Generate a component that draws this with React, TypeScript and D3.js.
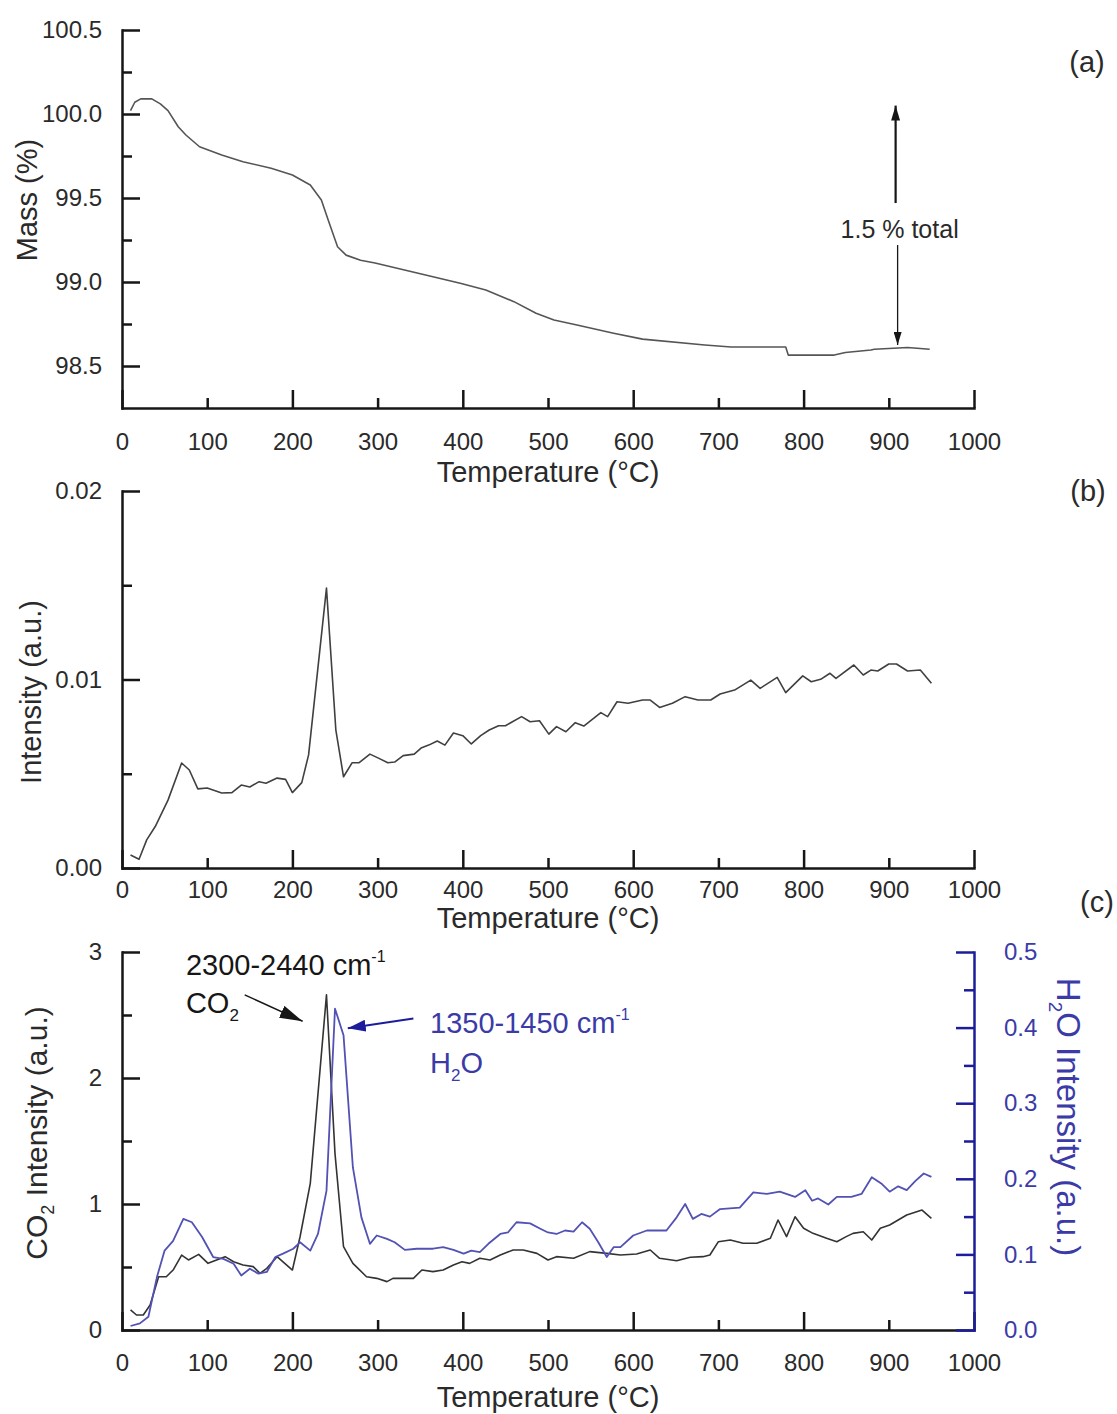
import React, { useEffect, useRef } from 'react';
import * as d3 from 'd3';

// (a) mass loss curve
const tgaTemp = [10, 15, 22, 35, 45, 54, 66, 75, 91, 117, 142, 175, 200, 221, 234, 242, 253, 263, 280, 297, 339, 397, 427, 460, 486, 507, 534, 577, 611, 684, 715, 779, 782, 836, 849, 879, 883, 922, 948];
const tgaMass = [100.02, 100.07, 100.09, 100.09, 100.06, 100.02, 99.924, 99.875, 99.805, 99.756, 99.716, 99.677, 99.637, 99.577, 99.488, 99.369, 99.21, 99.16, 99.13, 99.113, 99.062, 98.992, 98.952, 98.883, 98.814, 98.774, 98.744, 98.695, 98.66, 98.625, 98.613, 98.613, 98.565, 98.565, 98.58, 98.595, 98.6, 98.61, 98.6];

// (b) intensity
const msTemp = [10, 20, 29, 39, 54, 70, 79, 89, 100, 117, 129, 140, 150, 161, 169, 182, 192, 200, 211, 219, 240, 251, 260, 270, 278, 291, 301, 312, 320, 330, 343, 351, 360, 370, 379, 389, 400, 410, 421, 431, 442, 450, 469, 479, 490, 501, 510, 521, 532, 542, 562, 570, 581, 594, 611, 620, 631, 646, 661, 676, 691, 702, 719, 738, 749, 769, 779, 799, 809, 820, 831, 838, 859, 870, 879, 887, 900, 909, 922, 937, 950];
const msIntensity = [0.00069, 0.00046, 0.00149, 0.0022, 0.0036, 0.00557, 0.0052, 0.0042, 0.00424, 0.00398, 0.004, 0.0044, 0.0043, 0.00458, 0.0045, 0.00477, 0.0047, 0.004, 0.00453, 0.006, 0.01485, 0.00732, 0.00484, 0.00558, 0.00558, 0.00604, 0.00583, 0.00558, 0.00562, 0.00596, 0.00604, 0.00636, 0.00652, 0.00674, 0.00652, 0.00716, 0.00702, 0.00658, 0.00702, 0.00732, 0.00755, 0.00755, 0.00803, 0.00776, 0.00781, 0.0071, 0.0075, 0.00723, 0.00771, 0.00753, 0.00824, 0.00803, 0.00882, 0.00874, 0.00891, 0.00891, 0.00852, 0.00874, 0.00909, 0.00891, 0.00891, 0.00923, 0.00944, 0.00997, 0.00953, 0.01011, 0.0093, 0.01019, 0.00988, 0.01001, 0.01033, 0.01006, 0.01077, 0.01024, 0.0105, 0.01045, 0.01082, 0.01082, 0.01045, 0.0105, 0.0098];

// (c) CO2 band
const co2Temp = [10, 17, 25, 33, 43, 52, 60, 70, 78, 90, 101, 111, 121, 131, 142, 154, 162, 170, 182, 191, 200, 209, 221, 240, 250, 260, 271, 287, 299, 311, 318, 330, 342, 352, 365, 377, 389, 399, 408, 420, 432, 444, 459, 471, 487, 500, 510, 530, 549, 569, 585, 604, 620, 631, 651, 667, 682, 690, 700, 714, 729, 745, 761, 770, 780, 790, 800, 811, 827, 839, 850, 858, 870, 880, 890, 901, 911, 921, 939, 950];
const co2Intensity = [0.159, 0.119, 0.119, 0.198, 0.423, 0.423, 0.476, 0.595, 0.556, 0.6, 0.529, 0.556, 0.582, 0.542, 0.516, 0.503, 0.45, 0.489, 0.582, 0.529, 0.476, 0.74, 1.164, 2.66, 1.4, 0.661, 0.529, 0.423, 0.41, 0.384, 0.41, 0.41, 0.41, 0.476, 0.463, 0.476, 0.516, 0.542, 0.529, 0.569, 0.556, 0.595, 0.635, 0.635, 0.608, 0.556, 0.582, 0.569, 0.622, 0.608, 0.595, 0.603, 0.635, 0.569, 0.55, 0.577, 0.582, 0.595, 0.701, 0.714, 0.688, 0.688, 0.728, 0.873, 0.741, 0.899, 0.807, 0.767, 0.728, 0.701, 0.741, 0.767, 0.78, 0.714, 0.807, 0.833, 0.873, 0.913, 0.952, 0.886];

// (c) H2O band
const h2oTemp = [10, 21, 31, 41, 50, 60, 72, 82, 94, 107, 119, 131, 140, 150, 160, 170, 180, 189, 201, 209, 221, 230, 240, 250, 260, 271, 281, 291, 299, 311, 320, 332, 346, 365, 377, 389, 401, 410, 420, 430, 444, 453, 463, 479, 491, 500, 510, 520, 530, 540, 549, 559, 569, 577, 585, 600, 616, 639, 651, 661, 670, 680, 690, 702, 725, 741, 757, 772, 790, 802, 810, 817, 829, 839, 856, 868, 880, 892, 901, 911, 921, 931, 941, 950];
const h2oIntensity = [0.0053, 0.0088, 0.0175, 0.07, 0.105, 0.118, 0.147, 0.1425, 0.123, 0.0965, 0.094, 0.0877, 0.072, 0.081, 0.0746, 0.0768, 0.0965, 0.101, 0.1075, 0.116, 0.105, 0.127, 0.184, 0.425, 0.39, 0.215, 0.149, 0.114, 0.125, 0.1206, 0.116, 0.106, 0.1075, 0.1075, 0.1096, 0.106, 0.101, 0.105, 0.103, 0.114, 0.127, 0.129, 0.1425, 0.141, 0.134, 0.129, 0.127, 0.1316, 0.13, 0.1425, 0.134, 0.116, 0.0965, 0.1096, 0.1096, 0.125, 0.1316, 0.1316, 0.149, 0.1667, 0.147, 0.1535, 0.15, 0.16, 0.162, 0.182, 0.18, 0.183, 0.176, 0.185, 0.171, 0.174, 0.166, 0.176, 0.176, 0.18, 0.202, 0.193, 0.183, 0.19, 0.185, 0.197, 0.207, 0.2026];

// ticks
const tempTicks = d3.range(0, 1001, 100);
const massTicks = [98.5, 99.0, 99.5, 100.0, 100.5];
const massMinorTicks = [98.75, 99.25, 99.75, 100.25];
const msTicks = [0, 0.01, 0.02];
const msMinorTicks = [0.005, 0.015];
const co2Ticks = [0, 1, 2, 3];
const co2MinorTicks = [0.5, 1.5, 2.5];
const h2oTicks = [0, 0.1, 0.2, 0.3, 0.4, 0.5];
const h2oMinorTicks = [0.05, 0.15, 0.25, 0.35, 0.45];

const FONT = '"Liberation Sans", Arial, Helvetica, sans-serif';
const INK = '#161616';
const LABEL = '#2a2a2a';
const BLUE_AXIS = '#1d1d9b';
const BLUE_LINE = '#5252b4';
const BLUE_TEXT = '#3b3ba8';

const App = () => {
    const svgRef = useRef<SVGSVGElement>(null);

    useEffect(() => {
        const W = 1117, H = 1414;
        const left = 122, right = 974;

        d3.select(svgRef.current).selectAll('*').remove();
        const svg = d3.select(svgRef.current).attr('width', W).attr('height', H);

        svg.append('rect').attr('width', W).attr('height', H).attr('fill', '#fff');

        const defs = svg.append('defs');
        const marker = (id: string, color: string, len: number, wid: number) => {
            defs.append('marker')
                .attr('id', id)
                .attr('viewBox', '0 0 10 10')
                .attr('preserveAspectRatio', 'none')
                .attr('refX', 10).attr('refY', 5)
                .attr('markerUnits', 'userSpaceOnUse')
                .attr('markerWidth', len).attr('markerHeight', wid)
                .attr('orient', 'auto')
                .append('path').attr('d', 'M0,0L10,5L0,10Z').attr('fill', color);
        };
        marker('headA', INK, 15, 9);
        marker('headA2', INK, 13, 8);
        marker('headCO2', INK, 23, 13);
        marker('headH2O', BLUE_AXIS, 18, 12);

        const x = d3.scaleLinear().domain([0, 1000]).range([left, right]);
        const yA = d3.scaleLinear().domain([98.25, 100.5]).range([408, 30]);
        const yB = d3.scaleLinear().domain([0, 0.02]).range([868, 491]);
        const yC = d3.scaleLinear().domain([0, 3]).range([1330, 952]);
        const yH = d3.scaleLinear().domain([0, 0.5]).range([1330, 952]);

        const styleAxis = (g: any, color: string, textColor: string) => {
            g.attr('font-size', null).attr('font-family', null);
            g.select('.domain').attr('stroke', color).attr('stroke-width', 2.5).attr('stroke-linecap', 'square');
            g.selectAll('.tick line').attr('stroke', color).attr('stroke-width', 2.5);
            g.selectAll('text').attr('font-size', 24).attr('font-family', FONT).attr('fill', textColor);
        };

        const xAxis = (yPos: number, pad: number) => {
            const g = svg.append('g').attr('transform', `translate(0,${yPos})`)
                .call(d3.axisBottom(x).tickValues(tempTicks).tickSize(-18).tickSizeOuter(0)
                    .tickPadding(pad).tickFormat(d3.format('d')));
            g.selectAll('.tick line').attr('y2', (d: any) => (d % 200 === 0 ? -18 : -10));
            styleAxis(g, INK, LABEL);
        };

        const yAxis = (y: any, major: number[], minor: number[], fmt: string, side: 'left' | 'right',
            color: string, textColor: string) => {
            const pos = side === 'left' ? left : right;
            const make = side === 'left' ? d3.axisLeft : d3.axisRight;
            const g = svg.append('g').attr('transform', `translate(${pos},0)`)
                .call(make(y).tickValues(major).tickSize(-18).tickSizeOuter(0)
                    .tickPadding(side === 'left' ? 20 : 30).tickFormat(d3.format(fmt)));
            styleAxis(g, color, textColor);
            const m = svg.append('g').attr('transform', `translate(${pos},0)`)
                .call(make(y).tickValues(minor).tickSize(-10).tickFormat(() => ''));
            m.select('.domain').remove();
            m.selectAll('.tick line').attr('stroke', color).attr('stroke-width', 2.5);
        };

        const curve = (temps: number[], vals: number[], y: any, color: string, width: number) => {
            const line = d3.line<[number, number]>().x(d => x(d[0])).y(d => y(d[1]));
            svg.append('path')
                .datum(d3.zip(temps, vals) as [number, number][])
                .attr('d', line)
                .attr('fill', 'none')
                .attr('stroke', color)
                .attr('stroke-width', width)
                .attr('stroke-linejoin', 'round');
        };

        const text = (tx: number, ty: number, str: string, size: number, color: string, anchor = 'start', rotate = 0) => {
            const t = svg.append('text')
                .attr('transform', `translate(${tx},${ty}) rotate(${rotate})`)
                .attr('text-anchor', anchor)
                .attr('font-family', FONT)
                .attr('font-size', size)
                .attr('fill', color)
                .text(str);
            return t;
        };

        const xTitle = (baseline: number) => text((left + right) / 2, baseline, 'Temperature (°C)', 29, LABEL, 'middle');

        // ---- panel (a)
        curve(tgaTemp, tgaMass, yA, '#555', 1.6);
        xAxis(408, 25);
        yAxis(yA, massTicks, massMinorTicks, '.1f', 'left', INK, LABEL);
        xTitle(482);
        text(37, 200, 'Mass (%)', 29, LABEL, 'middle', -90);
        text(1087, 72, '(a)', 29, LABEL, 'middle');

        // total mass loss annotation
        const arrowX = x(908);
        svg.append('line')
            .attr('x1', arrowX).attr('x2', arrowX)
            .attr('y1', yA(99.47)).attr('y2', yA(100.05))
            .attr('stroke', INK).attr('stroke-width', 2.2)
            .attr('marker-end', 'url(#headA)');
        svg.append('line')
            .attr('x1', arrowX + 2).attr('x2', arrowX + 2)
            .attr('y1', yA(99.22)).attr('y2', yA(98.625))
            .attr('stroke', INK).attr('stroke-width', 1.3)
            .attr('marker-end', 'url(#headA2)');
        text(arrowX + 4, 238, '1.5 % total', 25, LABEL, 'middle');

        // ---- panel (b)
        curve(msTemp, msIntensity, yB, '#404040', 1.6);
        xAxis(868, 13);
        yAxis(yB, msTicks, msMinorTicks, '.2f', 'left', INK, LABEL);
        xTitle(928);
        text(41, 692, 'Intensity (a.u.)', 29, LABEL, 'middle', -90);
        text(1088, 501, '(b)', 29, LABEL, 'middle');

        // ---- panel (c)
        curve(co2Temp, co2Intensity, yC, '#333', 1.6);
        curve(h2oTemp, h2oIntensity, yH, BLUE_LINE, 1.8);
        xAxis(1330, 24);
        yAxis(yC, co2Ticks, co2MinorTicks, 'd', 'left', INK, LABEL);
        yAxis(yH, h2oTicks, h2oMinorTicks, '.1f', 'right', BLUE_AXIS, BLUE_TEXT);
        xTitle(1407);
        text(1097, 912, '(c)', 29, LABEL, 'middle');

        const co2Label = text(47, 1133, 'CO', 30, LABEL, 'middle', -90);
        co2Label.append('tspan').attr('font-size', 18).attr('dy', 7).text('2');
        co2Label.append('tspan').attr('dy', -7).text(' Intensity (a.u.)');

        const h2oLabel = text(1057, 1117, 'H', 33, BLUE_TEXT, 'middle', 90);
        h2oLabel.append('tspan').attr('font-size', 19).attr('dy', 8).text('2');
        h2oLabel.append('tspan').attr('dy', -8).text('O Intensity (a.u.)');

        // band annotations
        const co2Band = text(x(75), yC(2.817), '2300-2440 cm', 29, INK);
        co2Band.append('tspan').attr('font-size', 16).attr('dy', -13).text('-1');
        const co2Name = text(x(75), yC(2.516), 'CO', 29, INK);
        co2Name.append('tspan').attr('font-size', 17).attr('dy', 8).text('2');

        svg.append('line')
            .attr('x1', x(144)).attr('y1', yC(2.66))
            .attr('x2', x(212)).attr('y2', yC(2.45))
            .attr('stroke', INK).attr('stroke-width', 1.5)
            .attr('marker-end', 'url(#headCO2)');

        const h2oBand = text(x(361.5), yH(0.3925), '1350-1450 cm', 29, BLUE_TEXT);
        h2oBand.append('tspan').attr('font-size', 16).attr('dy', -13).text('-1');
        const h2oName = text(x(361.5), yH(0.3395), 'H', 29, BLUE_TEXT);
        h2oName.append('tspan').attr('font-size', 17).attr('dy', 8).text('2');
        h2oName.append('tspan').attr('dy', -8).text('O');

        svg.append('line')
            .attr('x1', x(342)).attr('y1', yH(0.412))
            .attr('x2', x(265)).attr('y2', yH(0.399))
            .attr('stroke', BLUE_AXIS).attr('stroke-width', 2)
            .attr('marker-end', 'url(#headH2O)');
    }, []);

    return (
        <svg ref={svgRef} style={{ position: 'absolute', left: 0, top: 0, display: 'block' }}></svg>
    );
};

export default App;
